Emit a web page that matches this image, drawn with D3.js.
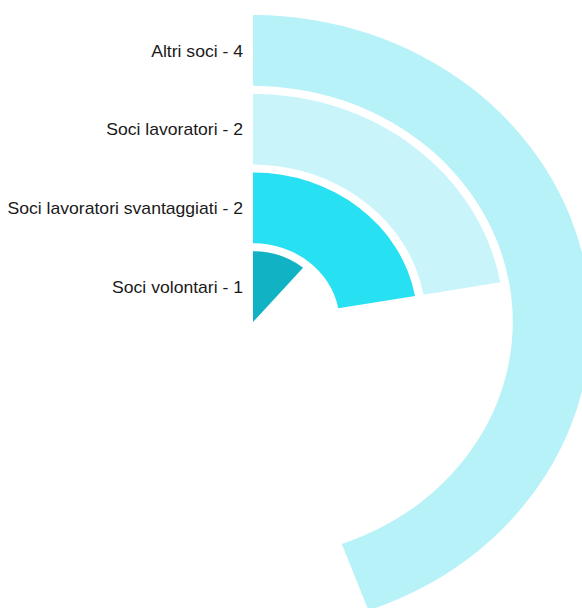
<!DOCTYPE html>
<html>
<head>
<meta charset="utf-8">
<script src="https://cdn.jsdelivr.net/npm/d3@7"></script>
<style>
  html, body { margin: 0; padding: 0; background: #fff; }
  svg { display: block; }
</style>
</head>
<body>
<div id="chart"></div>
<script>
// Member categories, from the centre outwards
const categories = ["Soci volontari", "Soci lavoratori svantaggiati", "Soci lavoratori", "Altri soci"];
const values = [1, 2, 2, 4];
const colors = ["#12b2c5", "#27e0f1", "#c9f5fa", "#b6f2f8"];

const width = 582, height = 608;
const cx = 253, cy = 322;
const outerRadius = 307;
const stretchX = 1.1; // everything is drawn slightly wider than tall

const svg = d3.select("#chart").append("svg")
  .attr("width", width)
  .attr("height", height);

// Ring positions: one band per category
const radius = d3.scaleBand()
  .domain(categories)
  .range([0, outerRadius])
  .paddingInner(0.1);

// Sweep angle: the largest value covers 160 degrees
const angle = d3.scaleLinear()
  .domain([0, d3.max(values)])
  .range([0, 160 * Math.PI / 180]);

const data = categories.map((c, i) => ({ name: c, value: values[i], color: colors[i] }));

const arc = d3.arc()
  .innerRadius(d => radius(d.name))
  .outerRadius(d => radius(d.name) + radius.bandwidth())
  .startAngle(0)
  .endAngle(d => angle(d.value));

svg.append("g")
  .attr("transform", `translate(${cx},${cy}) scale(${stretchX},1)`)
  .selectAll("path")
  .data(data)
  .join("path")
  .attr("d", arc)
  .attr("fill", d => d.color);

// Labels to the left of each ring's start
svg.append("g")
  .attr("transform", `translate(${cx - 10},0) scale(${stretchX},1)`)
  .selectAll("text")
  .data(data)
  .join("text")
  .attr("x", 0)
  .attr("y", d => cy - (radius(d.name) + radius.bandwidth() / 2) + 0.5)
  .attr("dy", "0.35em")
  .attr("text-anchor", "end")
  .attr("font-family", "'Liberation Sans', Arial, Helvetica, sans-serif")
  .attr("font-size", 16)
  .attr("fill", "#1a1a1a")
  .text(d => `${d.name} - ${d.value}`);
</script>
</body>
</html>
